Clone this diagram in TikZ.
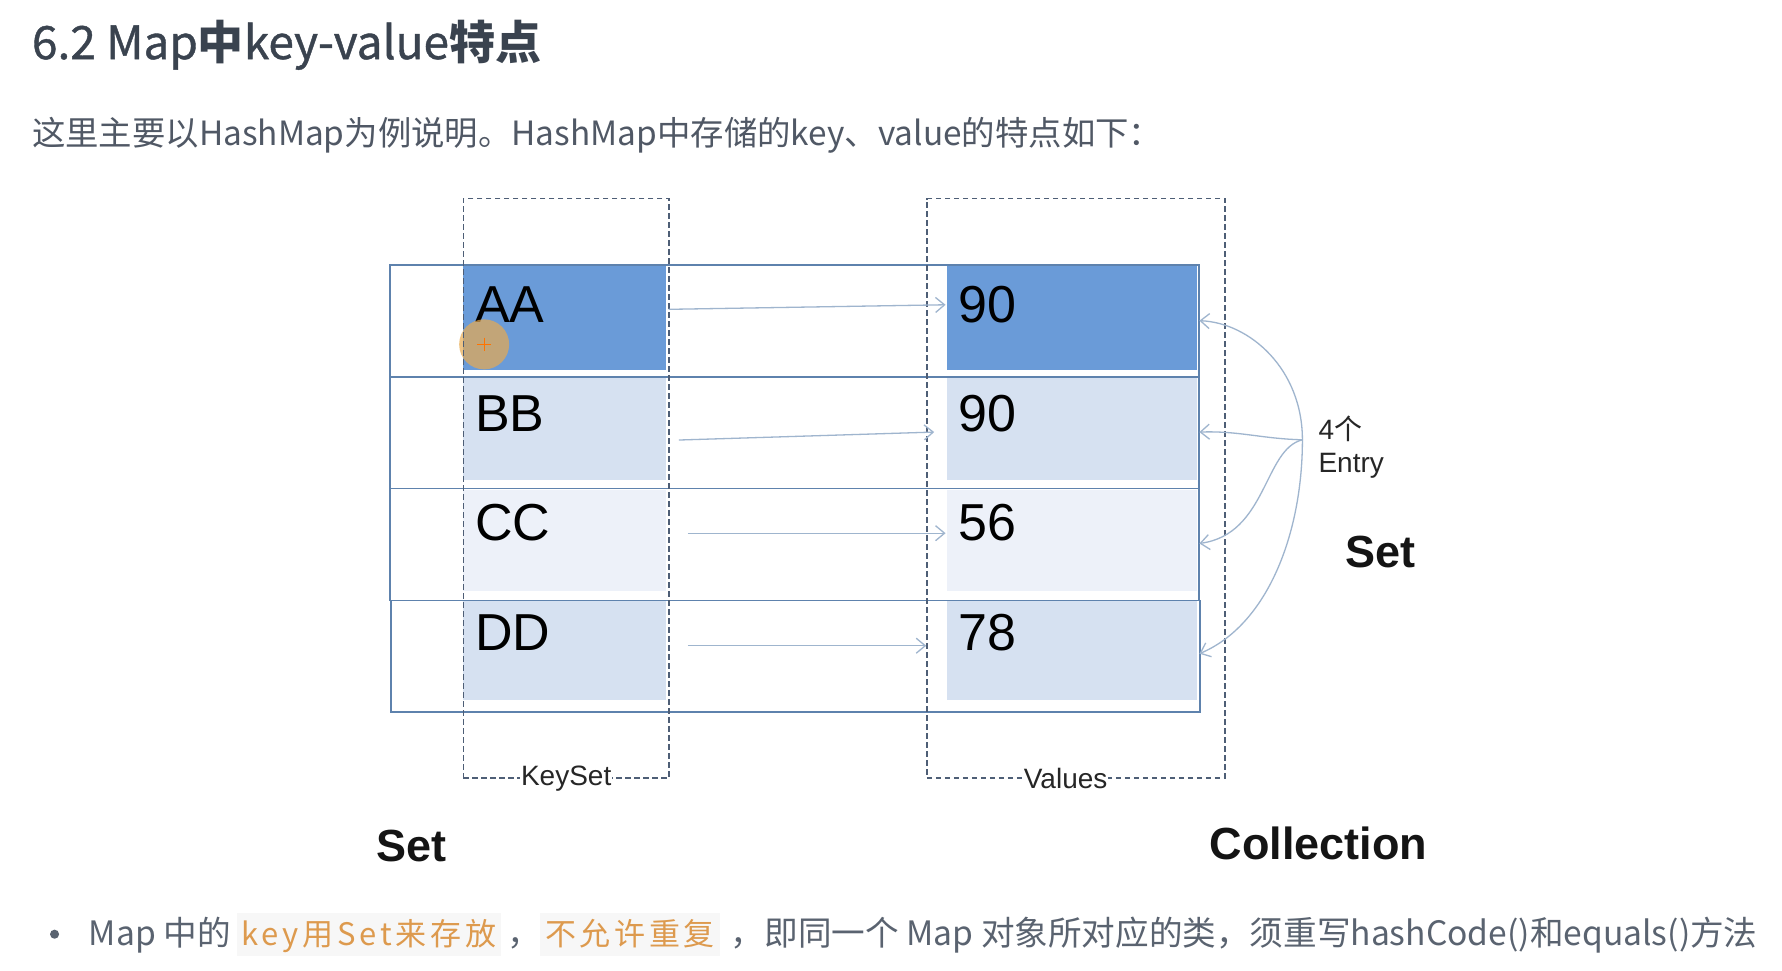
\documentclass[tikz,border=0pt]{standalone}
\usepackage{fontspec}
\setmainfont{Liberation Sans}
\newfontfamily\cjk{Noto Sans CJK SC}
\newfontfamily\cjkcode[LetterSpace=12]{Noto Sans CJK SC}
\usetikzlibrary{arrows.meta,calc}
\definecolor{tabline}{HTML}{5E82AD}
\definecolor{dashc}{HTML}{4E5E76}
\definecolor{darkfill}{HTML}{6A9BD8}
\definecolor{midfill}{HTML}{D6E1F1}
\definecolor{lightfill}{HTML}{EDF1F9}
\definecolor{arrowc}{HTML}{9FB5CE}
\definecolor{titlec}{HTML}{3A434F}
\definecolor{textc}{HTML}{505865}
\definecolor{bulletc}{HTML}{5A6370}
\definecolor{codefg}{HTML}{DD9A4E}
\definecolor{codebg}{HTML}{F7F7F7}
\definecolor{cursorc}{HTML}{E8AA50}
\def\U{1.1365pt}
\begin{document}
\begin{tikzpicture}[x=1.1365pt,y=-1.1365pt,
  rowbox/.style={draw=tabline, line width=1.9pt, minimum width=712*\U, minimum height=98.5*\U, anchor=north west, inner sep=0pt},
  keycell/.style={anchor=north west, inner sep=0pt, minimum width=179*\U},
  valcell/.style={anchor=north west, inner sep=0pt, minimum width=220*\U},
  dashbox/.style={draw=dashc, line width=1.5pt, dash pattern=on 5.5pt off 3.5pt, anchor=north west, inner sep=0pt, minimum height=510*\U},
  celltxt/.style={anchor=base west, inner sep=0pt, font=\fontsize{52}{56}\selectfont, text=black},
  boxlbl/.style={fill=white, inner sep=1pt, font=\fontsize{28}{30}\selectfont, text=black!85},
  bigbold/.style={font=\bfseries\fontsize{45}{50}\selectfont, text=black!92},
  conn/.style={draw=arrowc, line width=1.3pt, -{Straight Barb[length=9pt,width=15pt]}},
  bodytxt/.style={anchor=base west, inner sep=0pt, text=bulletc, font=\cjk\fontsize{33.6}{38}\selectfont},
  codetxt/.style={anchor=base west, fill=codebg, inner xsep=5pt, inner ysep=0pt, text height=33pt, text depth=10pt, text=codefg, font=\cjkcode\fontsize{31}{34}\selectfont},
]
\useasboundingbox (0,0) rectangle (1568,854);
\fill[white] (0,0) rectangle (1568,854);

% page texts
\node[anchor=base west, inner sep=0pt, text=titlec, font=\cjk\fontsize{46}{50}\selectfont] (title) at (28,52)
  {{\addfontfeature{FakeBold=0.9}6.2 Map}{\bfseries 中}{\addfontfeature{FakeBold=0.9}key-value}{\bfseries 特点}};
\node[anchor=base west, inner sep=0pt, text=textc, font=\cjk\fontsize{33.4}{38}\selectfont] (intro) at (28,128)
  {这里主要以HashMap为例说明。HashMap中存储的key、value的特点如下：};

% cells
\node[keycell, fill=darkfill, minimum height=92*\U] (k1) at (407,233) {};
\node[keycell, fill=midfill, minimum height=90*\U] (k2) at (407,332) {};
\node[keycell, fill=lightfill, minimum height=89*\U] (k3) at (407,431) {};
\node[keycell, fill=midfill, minimum height=87*\U] (k4) at (407,529) {};
\node[valcell, fill=darkfill, minimum height=92*\U] (v1) at (833,233) {};
\node[valcell, fill=midfill, minimum height=90*\U] (v2) at (833,332) {};
\node[valcell, fill=lightfill, minimum height=89*\U] (v3) at (833,431) {};
\node[valcell, fill=midfill, minimum height=87*\U] (v4) at (833,529) {};

% rows
\node[rowbox] (r1) at (342,232) {};
\node[rowbox] (r2) at (342,330.5) {};
\node[rowbox] (r3) at (342,429) {};
\node[rowbox] (r4) at (343,527.5) {};

% cell texts
\node[celltxt] (tAA) at (418,284) {AA};
\node[celltxt] (tBB) at (418,380) {BB};
\node[celltxt] (tCC) at (418,476) {CC};
\node[celltxt] (tDD) at (418,572) {DD};
\node[celltxt] (t90a) at (843,284) {90};
\node[celltxt] (t90b) at (843,380) {90};
\node[celltxt] (t56) at (843,476) {56};
\node[celltxt] (t78) at (843,572) {78};

% cursor highlight
\node[circle, fill=cursorc, fill opacity=0.7, minimum size=44*\U, inner sep=0pt] (cursor) at (426,303) {};
\draw[draw=orange!90!red, line width=1.2pt] ($(cursor)+(-6,0)$) -- ($(cursor)+(6,0)$) ($(cursor)+(0,-6)$) -- ($(cursor)+(0,6)$);

% dashed boxes
\node[dashbox, minimum width=181*\U] (keyset) at (407,174) {};
\node[dashbox, minimum width=262*\U] (values) at (815,174) {};
\node[boxlbl] (lkeyset) at (keyset.south) {KeySet};
\node[boxlbl] (lvalues) at ($(values.south)+(-9,0)$) {Values};

% key -> value arrows
\draw[conn] ($(k1.east)+(2,-7)$) -- ($(v1.west)+(-1,-11)$);
\draw[conn] ($(k2.east)+(11,10)$) -- ($(v2.west)+(-11,3)$);
\draw[conn] ($(k3.east)+(19,-6.5)$) -- ($(v3.west)+(-1,-6.5)$);
\draw[conn] ($(k4.east)+(19,-4.5)$) -- ($(v4.west)+(-18,-4.5)$);

% entry curves
\coordinate (hub) at (1146,387);
\draw[conn] (hub) .. controls (1146,325) and (1100,284) .. ($(v1.east)+(2,3)$);
\draw[conn] (hub) .. controls (1110,386) and (1090,379) .. ($(v2.east)+(2,3)$);
\draw[conn] (hub) .. controls (1112,395) and (1115,470) .. ($(v3.east)+(2,2.5)$);
\draw[conn] (hub) .. controls (1146,470) and (1115,550) .. ($(v4.east)+(2,2.5)$);

\node[anchor=west, inner sep=0pt, font=\fontsize{28}{30}\selectfont, text=black!85] (four) at (1160,377) {4{\cjk 个}};
\node[anchor=west, inner sep=0pt, font=\fontsize{28}{30}\selectfont, text=black!85] (entry) at (1160,410) {Entry};
\node[bigbold] (setr) at (1215,486) {Set};
\node[bigbold] (setl) at (362,744) {Set};
\node[bigbold] (coll) at (1160,742) {Collection};

% bullet line
\node[circle, fill=bulletc, minimum size=8*\U, inner sep=0pt] (bullet) at (48,822) {};
\node[bodytxt] (b1) at (78,832) {Map 中的};
\node[codetxt] (c1) at (208,832) {key用Set来存放};
\node[bodytxt] (b2) at (446,832) {，};
\node[codetxt] (c2) at (475,832) {不允许重复};
\node[bodytxt] (b3) at (643,832) {，即同一个 Map 对象所对应的类，须重写hashCode()和equals()方法};
\end{tikzpicture}
\end{document}
